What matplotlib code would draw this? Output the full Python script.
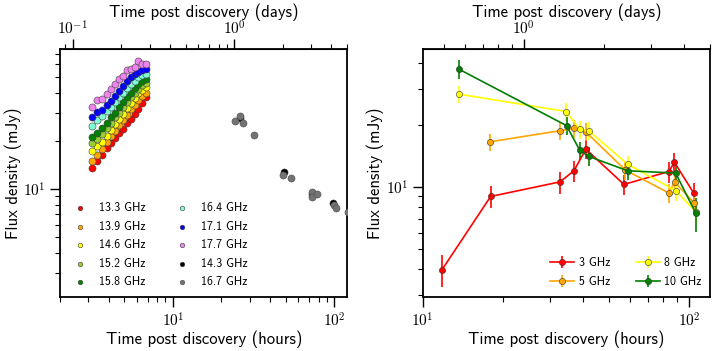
import math
import matplotlib
matplotlib.use('Agg')
import matplotlib.pyplot as plt
from matplotlib.ticker import NullFormatter, FuncFormatter

plt.rcParams['font.family'] = ['cmss10', 'DejaVu Sans']
plt.rcParams['mathtext.fontset'] = 'cm'
plt.rcParams['axes.unicode_minus'] = False

# left panel: high frequency light curves (hours, mJy)
early_times = [3.15, 3.40, 3.65, 3.92, 4.15, 4.40, 4.65, 4.90, 5.20, 5.48, 5.80, 6.12, 6.48, 6.85]
early_labels = ['13.3 GHz', '13.9 GHz', '14.6 GHz', '15.2 GHz', '15.8 GHz',
                '16.4 GHz', '17.1 GHz', '17.7 GHz']
early_colors = ['red', 'orange', 'yellow', 'yellowgreen', 'green',
                'aquamarine', 'blue', 'violet']
early_flux = [
    [13.6, 15.0, 16.4, 18.0, 19.3, 20.8, 22.3, 23.8, 25.7, 27.5, 29.5, 31.6, 34.5, 37.4],
    [14.9, 16.4, 17.8, 19.6, 21.3, 23.0, 25.0, 27.0, 29.0, 31.5, 33.5, 36.0, 38.0, 39.8],
    [17.3, 18.5, 19.8, 21.5, 23.5, 25.5, 27.5, 29.5, 32.0, 34.5, 37.0, 39.5, 41.5, 43.2],
    [19.4, 20.5, 22.0, 24.0, 26.0, 28.0, 30.0, 32.5, 35.0, 37.5, 40.0, 42.0, 44.5, 46.0],
    [21.0, 22.5, 24.0, 26.0, 28.0, 30.0, 32.5, 35.0, 37.5, 40.0, 42.5, 45.0, 47.0, 48.7],
    [24.8, 27.0, 28.5, 30.5, 32.5, 35.0, 37.5, 40.0, 42.5, 45.0, 47.5, 50.0, 51.5, 52.5],
    [28.0, 30.3, 31.0, 33.5, 35.5, 38.0, 41.0, 44.0, 47.0, 50.0, 52.0, 54.0, 55.5, 56.2],
    [32.4, 36.0, 36.4, 39.2, 42.2, 45.3, 48.7, 51.0, 55.7, 56.5, 57.5, 63.3, 60.7, 60.4],
]

late_t_143 = [26.0, 48.5, 72.5, 98.0]
late_f_143 = [27.8, 12.8, 9.3, 8.2]
late_t_167 = [24.3, 26.2, 27.1, 31.7, 48.2, 53.8, 72.4, 73.0, 78.1, 100.0, 102.0, 121.0]
late_f_167 = [26.5, 28.7, 25.9, 21.9, 12.3, 11.7, 9.6, 8.9, 9.35, 7.98, 7.67, 7.18]

# right panel: low frequency light curves
t_3 = [11.8, 18.0, 32.8, 37.0, 41.0, 57.0, 84.1, 88.2, 104.2]
f_3 = [3.95, 9.0, 10.6, 12.0, 15.3, 10.3, 11.9, 13.2, 9.35]
e_3 = [0.7, 1.1, 1.3, 1.4, 1.6, 1.2, 1.4, 1.5, 1.1]
t_5 = [17.9, 32.8, 37.0, 40.9, 57.7, 84.1, 88.3, 104.7]
f_5 = [16.6, 18.8, 19.3, 18.6, 12.1, 9.35, 10.6, 8.36]
e_5 = [1.6, 1.9, 1.9, 1.9, 1.3, 1.0, 1.1, 0.9]
t_8 = [13.7, 34.6, 38.9, 42.0, 58.9, 89.3, 106.0]
f_8 = [28.3, 23.3, 19.1, 18.8, 12.9, 9.6, 7.6]
e_8 = [2.8, 2.3, 1.9, 1.9, 1.3, 1.0, 0.9]
t_10 = [13.7, 34.7, 38.9, 42.0, 58.9, 89.1, 106.0]
f_10 = [37.4, 19.9, 15.1, 14.1, 12.0, 11.7, 7.48]
e_10 = [4.0, 2.0, 1.5, 1.5, 1.2, 1.2, 1.4]

fig = plt.figure(figsize=(7.13, 3.51), dpi=100)
ax1 = fig.add_axes([0.0842, 0.1547, 0.403, 0.705])
ax2 = fig.add_axes([0.5928, 0.1547, 0.403, 0.705])

# serif powers of ten like the reference
pow10 = FuncFormatter(lambda v, p: r'$10^{%d}$' % round(math.log10(v)))


def set_ticks(tp, pad=3.5):
    tp(which='both', direction='out', labelsize=11, pad=pad)
    tp(which='major', length=7, width=1.0)
    tp(which='minor', length=3.5, width=0.8)


def style_axes(ax, xlim, ylim):
    ax.set_xscale('log')
    ax.set_yscale('log')
    ax.set_xlim(*xlim)
    ax.set_ylim(*ylim)
    for s in ax.spines.values():
        s.set_linewidth(1.3)
    set_ticks(ax.tick_params)
    ax.tick_params(top=False, right=False)
    ax.xaxis.set_major_formatter(pow10)
    ax.yaxis.set_major_formatter(pow10)
    ax.xaxis.set_minor_formatter(NullFormatter())
    ax.yaxis.set_minor_formatter(NullFormatter())
    ax.set_xlabel('Time post discovery (hours)', fontsize=12, labelpad=1)
    ax.set_ylabel('Flux density (mJy)', fontsize=12, labelpad=1)
    top = ax.secondary_xaxis('top', functions=(lambda h: h / 24.0, lambda d: d * 24.0))
    set_ticks(top.tick_params, pad=1.0)
    top.xaxis.set_major_formatter(pow10)
    top.xaxis.set_minor_formatter(NullFormatter())
    top.set_xlabel('Time post discovery (days)', fontsize=12, labelpad=2)


style_axes(ax1, (2.0, 120.5), (2.13, 74.6))
style_axes(ax2, (10.0, 120.0), (2.93, 46.8))

for flux, col, lab in zip(early_flux, early_colors, early_labels):
    ax1.scatter(early_times, flux, s=26, c=col, edgecolors='0.25', linewidths=0.4,
                label=lab, zorder=3)
ax1.scatter(late_t_143, late_f_143, s=26, c='black', edgecolors='0.25', linewidths=0.4,
            label='14.3 GHz', zorder=3)
ax1.scatter(late_t_167, late_f_167, s=26, c='0.45', edgecolors='0.3', linewidths=0.4,
            label='16.7 GHz', zorder=4)
ax1.legend(loc='lower left', ncol=2, frameon=False, fontsize=8.5, markerscale=0.65,
           handletextpad=0.6, columnspacing=2.1, labelspacing=0.55,
           borderaxespad=0.3, bbox_to_anchor=(0.0, 0.0))

for t, f, e, col, lab in [(t_3, f_3, e_3, 'red', '3 GHz'),
                          (t_5, f_5, e_5, 'orange', '5 GHz'),
                          (t_8, f_8, e_8, 'yellow', '8 GHz'),
                          (t_10, f_10, e_10, 'green', '10 GHz')]:
    ax2.errorbar(t, f, yerr=e, color=col, lw=1.2, elinewidth=1.2, marker='o', ms=4.5,
                 mec='0.2', mew=0.4, capsize=0, label=lab)
ax2.legend(loc='lower right', ncol=2, frameon=False, fontsize=8.5,
           handlelength=2.0, handletextpad=0.4, columnspacing=2.2, labelspacing=0.65,
           borderaxespad=0.3)

fig.savefig('out.png', dpi=100)
